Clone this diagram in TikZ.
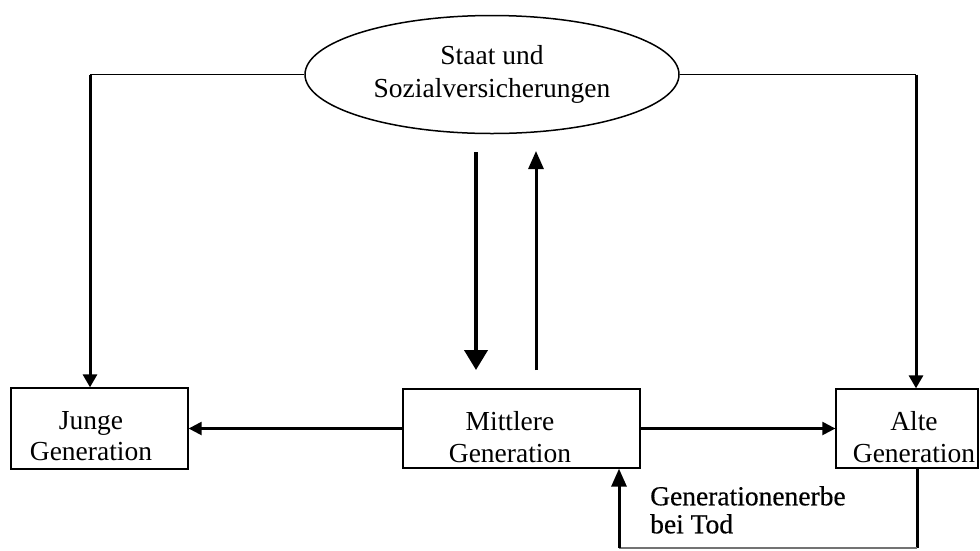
\documentclass[tikz,border=0pt]{standalone}
\usepackage{fontspec}
\setmainfont{Liberation Serif}
\newfontfamily\heavyserif[FakeBold=0.5]{Liberation Serif}
\usetikzlibrary{arrows.meta,shapes.geometric}

\tikzset{
  x=1pt, y=-1pt,
  txt/.style={font=\fontsize{27.5}{31.5}\selectfont, align=center, inner sep=0pt},
  genbox/.style={draw, line width=1.3pt, inner sep=0pt},
  oval/.style={ellipse, draw, line width=1.5pt, inner sep=0pt,
               minimum width=374pt, minimum height=118pt,
               font=\fontsize{27.5}{33}\selectfont, align=center},
  feed/.style={line width=1.7pt},
  drop/.style={line width=3pt, -{Triangle[length=13pt,width=14pt]}},
  flow/.style={line width=2.3pt, -{Triangle[length=13pt,width=13pt]}},
  down/.style={line width=4pt, -{Triangle[length=20pt,width=23pt]}},
  up/.style={line width=3pt, -{Triangle[length=18pt,width=15pt]}},
  legacy/.style={line width=3pt},
  base/.style={line width=1.5pt, draw=black!55},
}

\begin{document}
\begin{tikzpicture}
  \useasboundingbox (0,0) rectangle (980,550);

  % state and social insurance
  \node[oval] (st) at (492,74.5) {Staat und\\Sozialversicherungen};

  % the three generations
  \node[genbox, minimum width=177pt, minimum height=81pt] (j) at (99.5,428.5) {};
  \node[genbox, minimum width=237pt, minimum height=79pt] (m) at (521.5,428.5) {};
  \node[genbox, minimum width=142pt, minimum height=79pt] (a) at (907,428.5) {};
  \node[txt] (jt) at (91,436) {Junge\\Generation};
  \node[txt] (mt) at (510,437) {Mittlere\\Generation};
  \node[txt] (at) at (914,437) {Alte\\Generation};

  % transfers from the state
  \coordinate (lc) at (90,74.5);
  \coordinate (rc) at (916,74.5);
  \draw[feed] (st.west) -- (lc);
  \draw[drop] (lc) -- (lc |- j.north);
  \draw[feed] (st.east) -- (rc);
  \draw[drop] (rc) -- (rc |- a.north);

  % taxes and contributions of the middle generation
  \coordinate (d1) at (476,152);
  \coordinate (d2) at (476,370);
  \coordinate (u1) at (536,370);
  \coordinate (u2) at (536,151);
  \draw[down] (d1) -- (d2);
  \draw[up] (u1) -- (u2);

  % private transfers
  \draw[flow] (m.west) -- (j.east);
  \draw[flow] (m.east) -- (a.west);

  % inheritance
  \coordinate (b1) at (917,548);
  \coordinate (b2) at (619,548);
  \draw[legacy] (b1 |- a.south) -- (b1);
  \draw[base] (b1) -- (b2);
  \draw[up] (b2) -- (b2 |- m.south);
  \node[font=\heavyserif\fontsize{27.5}{28}\selectfont, align=left, inner sep=0pt,
        anchor=north west] (erbe) at (650,486) {Generationenerbe\\bei Tod};
\end{tikzpicture}
\end{document}
